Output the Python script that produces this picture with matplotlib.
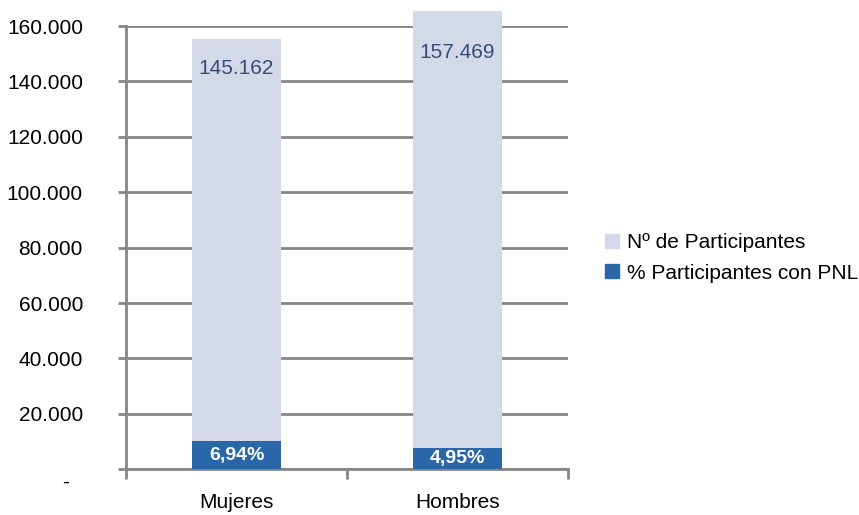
import matplotlib.pyplot as plt
import matplotlib.ticker as mticker
import matplotlib.transforms as mtrans
from matplotlib.patches import Patch

plt.rcParams['font.family'] = ['Liberation Sans', 'DejaVu Sans']

categorias = ['Mujeres', 'Hombres']
participantes = [145162, 157469]
pct_pnl = [6.94, 4.95]
etiquetas_pct = ['6,94%', '4,95%']
etiquetas_part = ['145.162', '157.469']

con_pnl = [p * q / 100 for p, q in zip(participantes, pct_pnl)]

claro = '#d3d9e8'
oscuro = '#2a67a8'
gris = '#868686'

fig = plt.figure(figsize=(8.59, 5.15), dpi=100)
ax = fig.add_axes([0.1467, 0.0887, 0.5143, 0.8608])

x = range(len(categorias))
ax.bar(x, con_pnl, width=0.4, color=oscuro, zorder=3, clip_on=False)
ax.bar(x, participantes, width=0.4, bottom=con_pnl, color=claro, zorder=3, clip_on=False)

for i in x:
    ax.text(i, con_pnl[i] / 2, etiquetas_pct[i], ha='center', va='center',
            color='white', fontsize=14, fontweight='bold', zorder=4)
    # etiqueta cerca del extremo visible de la barra
    top = min(con_pnl[i] + participantes[i], 161000)
    ax.text(i, top - 10400, etiquetas_part[i], ha='center', va='center',
            color='#3b4a78', fontsize=15, zorder=4, clip_on=False)

ax.set_xlim(-0.5, 1.5)
ax.set_ylim(0, 160000)
ax.set_yticks(range(0, 160001, 20000))
ax.yaxis.set_major_formatter(mticker.FuncFormatter(
    lambda v, p: '-' if v == 0 else f'{int(v):,}'.replace(',', '.')))
ax.yaxis.grid(True, color=gris, linewidth=2, zorder=1)
ax.tick_params(axis='y', length=6, width=2, color=gris, pad=25, labelsize=15)

ax.set_xticks(list(x))
ax.set_xticklabels(categorias)
ax.set_xticks([-0.5, 0.5, 1.5], minor=True)
ax.tick_params(axis='x', which='major', length=0, pad=17, labelsize=15)
ax.tick_params(axis='x', which='minor', length=7, width=2, color=gris)

for s in ['top', 'right']:
    ax.spines[s].set_visible(False)
for s in ['left', 'bottom']:
    ax.spines[s].set_color(gris)
    ax.spines[s].set_linewidth(2)

# el guion del cero queda algo mas abajo e izquierda, como en Excel
fig.canvas.draw()
cero = ax.yaxis.get_major_ticks()[0].label1
cero.set_transform(cero.get_transform() +
                   mtrans.ScaledTranslation(-10 / 72, -8 / 72, fig.dpi_scale_trans))

handles = [Patch(color=claro, label='Nº de Participantes'),
           Patch(color=oscuro, label='% Participantes con PNL')]
fig.legend(handles=handles, loc='center left', bbox_to_anchor=(0.683, 0.499),
           frameon=False, fontsize=15, handlelength=0.65, handleheight=0.65,
           handletextpad=0.4, labelspacing=0.55)

fig.savefig('out.png', dpi=100)
